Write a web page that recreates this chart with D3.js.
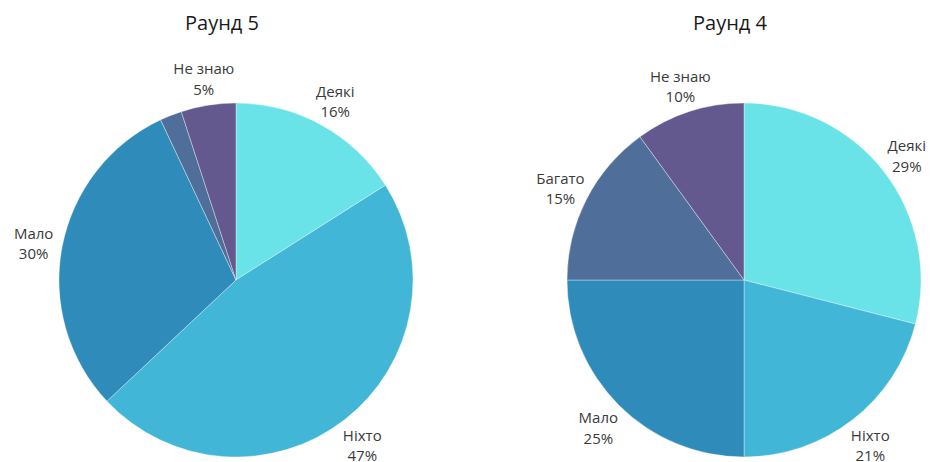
<!DOCTYPE html>
<html>
<head>
<meta charset="utf-8">
<script src="https://cdn.jsdelivr.net/npm/d3@7"></script>
<style>
  html, body { margin: 0; padding: 0; background: #fff; }
  svg { display: block; font-family: "Open Sans", "Noto Sans", sans-serif; }
  .lbl { font-size: 15px; fill: #3a3a3a; }
  .ttl { font-size: 20px; fill: #1a1a1a; }
</style>
</head>
<body>
<svg id="chart" width="933" height="462"></svg>
<script>
/* Two survey pies, round 5 vs round 4 */
(function () {
  "use strict";

  const categories = ["Деякі", "Ніхто", "Мало", "Багато", "Не знаю"];
  const round5 = [16, 47, 30, 2, 5];
  const round4 = [29, 21, 25, 15, 10];
  const titles = ["Раунд 5", "Раунд 4"];
  const showLabel5 = [true, true, true, false, true];
  const showLabel4 = [true, true, true, true, true];

  const COLORS = ["#69e3e8", "#42b6d7", "#2e8bba", "#4f6e99", "#63598f"];
  const color = d3.scaleOrdinal().domain(categories).range(COLORS);

  const svg = d3.select("#chart");
  const R = 177, LR = 206;

  const pie = d3.pie().sort(null).value((d) => d.v);
  const arc = d3.arc().innerRadius(0).outerRadius(R);
  const labelArc = d3.arc().innerRadius(LR).outerRadius(LR);

  const charts = [
    { title: titles[0], values: round5, show: showLabel5, cx: 236, cy: 280, tx: 222 },
    { title: titles[1], values: round4, show: showLabel4, cx: 744, cy: 280, tx: 730 },
  ];

  charts.forEach((c) => {
    const data = categories.map((k, i) => ({ k, v: c.values[i], show: c.show[i] }));
    const g = svg.append("g").attr("transform", `translate(${c.cx},${c.cy})`);
    const arcs = pie(data);

    g.selectAll("path").data(arcs).enter().append("path")
      .attr("d", arc)
      .attr("fill", (d) => color(d.data.k))
      .attr("stroke", "#ffffff").attr("stroke-width", 0.6).attr("stroke-opacity", 0.6);

    const lab = g.selectAll(".lab").data(arcs.filter((d) => d.data.show)).enter()
      .append("text").attr("class", "lbl").attr("text-anchor", "middle")
      .attr("transform", (d) => `translate(${labelArc.centroid(d)})`);
    lab.append("tspan").attr("x", 0).attr("dy", "-0.15em").text((d) => d.data.k);
    lab.append("tspan").attr("x", 0).attr("dy", "1.35em").text((d) => d.data.v + "%");

    svg.append("text").attr("class", "ttl").attr("x", c.tx).attr("y", 30)
      .attr("text-anchor", "middle").text(c.title);
  });
})();
</script>
</body>
</html>
